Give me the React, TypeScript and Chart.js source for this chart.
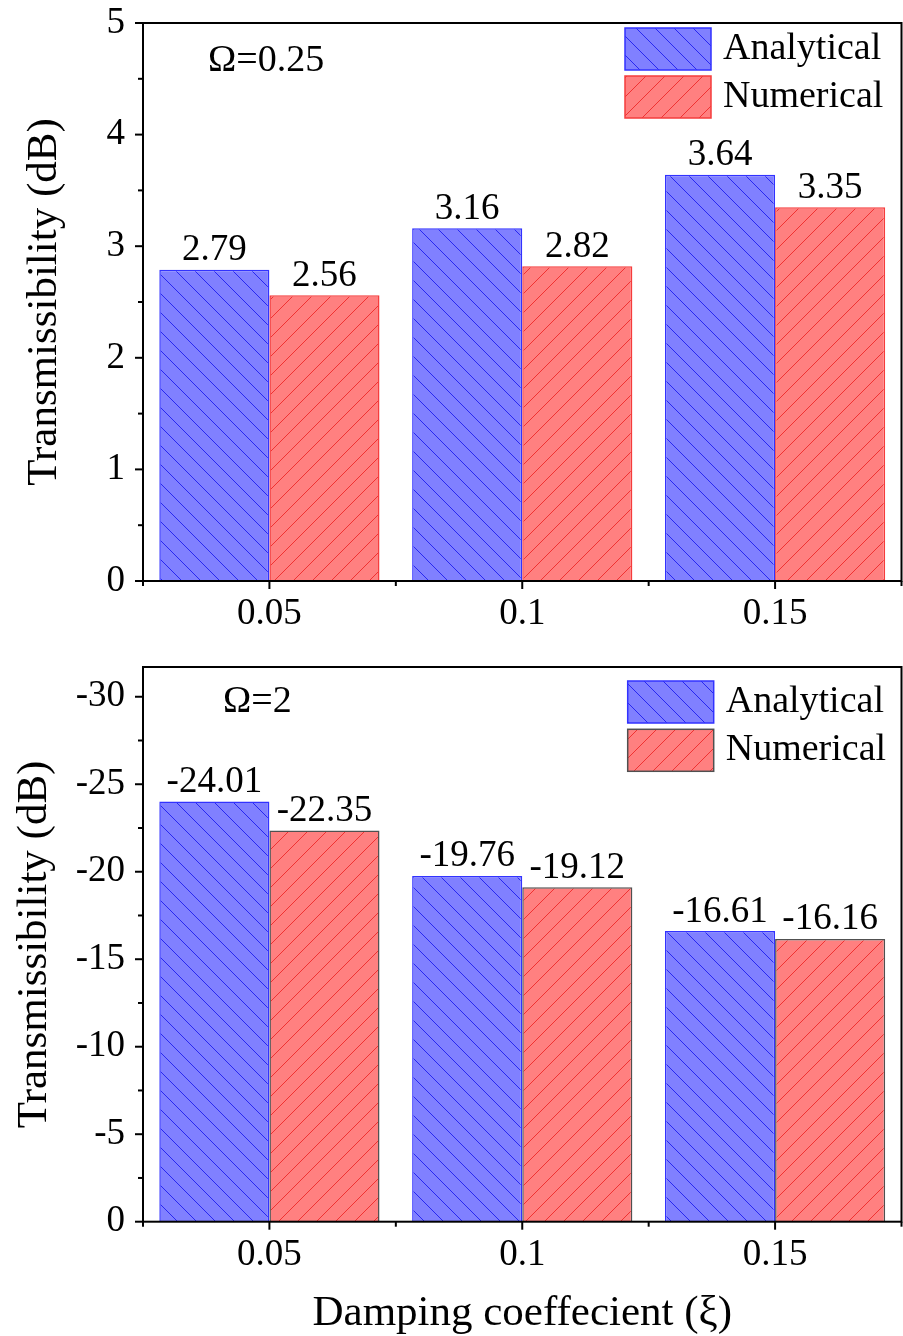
import React, { useEffect, useRef } from 'react';
import { Chart, registerables } from 'chart.js';
Chart.register(...registerables);

const categories = ['0.05', '0.1', '0.15'];
const seriesNames = ['Analytical', 'Numerical'];
const analyticalLow = [2.79, 3.16, 3.64];
const numericalLow = [2.56, 2.82, 3.35];
const analyticalHigh = [-24.01, -19.76, -16.61];
const numericalHigh = [-22.35, -19.12, -16.16];
const yTicksLow = [0, 1, 2, 3, 4, 5];
const yTicksHigh = [0, -5, -10, -15, -20, -25, -30];
const yTitleText = 'Transmissibility (dB)';
const xTitleText = 'Damping coeffecient (ξ)';
const omegaLow = 'Ω=0.25';
const omegaHigh = 'Ω=2';

const FONT = "'Liberation Serif', 'Times New Roman', serif";
const BLUE_FILL = 'rgb(128,128,255)';
const BLUE_LINE = 'rgb(40,40,240)';
const RED_FILL = 'rgb(255,128,128)';
const RED_LINE = 'rgb(240,50,50)';

function makePattern(bg: string, line: string, dir: 'back' | 'fwd', size = 19) {
  const c = document.createElement('canvas');
  c.width = size;
  c.height = size;
  const g = c.getContext('2d')!;
  g.fillStyle = bg;
  g.fillRect(0, 0, size, size);
  g.strokeStyle = line;
  g.lineWidth = 1;
  g.beginPath();
  for (let k = -1; k <= 1; k++) {
    if (dir === 'back') {
      g.moveTo(k * size - 1, -1);
      g.lineTo(k * size + size + 1, size + 1);
    } else {
      g.moveTo(k * size - 1, size + 1);
      g.lineTo(k * size + size + 1, -1);
    }
  }
  g.stroke();
  return g.createPattern(c, 'repeat')!;
}

interface Cfg {
  height: number;
  padTop: number;
  xHeight: number;
  yMin: number;
  yMax: number;
  reverse: boolean;
  majorTicks: number[];
  a: number[];
  n: number[];
  redBorder: string;
  omega: string;
  omegaX: number;
  omegaY: number;
  legendX: number;
  legendY: number;
  legendGap: number;
  yTitlePad: number;
  showXTitle: boolean;
}

function makeFramePlugin(cfg: Cfg) {
  return {
    id: 'frame',
    afterDraw(chart: any) {
      const { ctx, chartArea: a, scales } = chart;
      const x = scales.x;
      const y = scales.y;
      ctx.save();
      ctx.strokeStyle = '#000';
      ctx.lineWidth = 2;
      const seg = (x1: number, y1: number, x2: number, y2: number) => {
        ctx.beginPath();
        ctx.moveTo(x1, y1);
        ctx.lineTo(x2, y2);
        ctx.stroke();
      };
      ctx.strokeRect(a.left, a.top, a.right - a.left, a.bottom - a.top);
      const mt = cfg.majorTicks;
      mt.forEach((v) => {
        const py = y.getPixelForValue(v);
        seg(a.left - 8, py, a.left, py);
      });
      for (let i = 0; i < mt.length - 1; i++) {
        const py = y.getPixelForValue((mt[i] + mt[i + 1]) / 2);
        seg(a.left - 5, py, a.left, py);
      }
      const n = categories.length;
      for (let i = 0; i < n; i++) {
        const px = x.getPixelForValue(i);
        seg(px, a.bottom, px, a.bottom + 8);
      }
      for (let i = 0; i <= n; i++) {
        const px = i === 0 ? a.left : i === n ? a.right : (x.getPixelForValue(i - 1) + x.getPixelForValue(i)) / 2;
        seg(px, a.bottom, px, a.bottom + 5);
      }
      ctx.fillStyle = '#000';
      ctx.font = `37px ${FONT}`;
      ctx.textAlign = 'center';
      ctx.textBaseline = 'alphabetic';
      chart.data.datasets.forEach((ds: any, di: number) => {
        const meta = chart.getDatasetMeta(di);
        meta.data.forEach((bar: any, i: number) => {
          ctx.fillText(Number(ds.data[i]).toFixed(2), bar.x, bar.y - 9.5);
        });
      });
      ctx.font = `38px ${FONT}`;
      ctx.textAlign = 'left';
      ctx.textBaseline = 'middle';
      chart.data.datasets.forEach((ds: any, di: number) => {
        const bx = cfg.legendX;
        const by = cfg.legendY + di * cfg.legendGap;
        ctx.fillStyle = ds.backgroundColor;
        ctx.fillRect(bx, by, 86, 42);
        ctx.strokeStyle = ds.borderColor;
        ctx.lineWidth = 1.5;
        ctx.strokeRect(bx, by, 86, 42);
        ctx.fillStyle = '#000';
        ctx.fillText(ds.label, bx + 98, by + 21);
      });
      ctx.textBaseline = 'alphabetic';
      ctx.fillText(cfg.omega, cfg.omegaX, cfg.omegaY);
      ctx.restore();
    },
  };
}

function BarPanel({ cfg }: { cfg: Cfg }) {
  const ref = useRef<HTMLCanvasElement>(null);
  useEffect(() => {
    const blue = makePattern(BLUE_FILL, BLUE_LINE, 'back');
    const red = makePattern(RED_FILL, RED_LINE, 'fwd');
    const chart = new Chart(ref.current!, {
      type: 'bar',
      data: {
        labels: categories,
        datasets: [
          {
            label: seriesNames[0],
            data: cfg.a,
            backgroundColor: blue as any,
            borderColor: 'rgb(50,50,255)',
            borderWidth: 1.5,
            categoryPercentage: 0.871,
            barPercentage: 1,
          },
          {
            label: seriesNames[1],
            data: cfg.n,
            backgroundColor: red as any,
            borderColor: cfg.redBorder,
            borderWidth: 1.5,
            categoryPercentage: 0.871,
            barPercentage: 1,
          },
        ],
      },
      options: {
        responsive: false,
        animation: false,
        devicePixelRatio: 1,
        layout: { padding: { top: cfg.padTop, right: 1.5, left: 0, bottom: 0 } },
        plugins: { legend: { display: false }, tooltip: { enabled: false } },
        scales: {
          x: {
            grid: { display: false, drawTicks: false },
            border: { display: false },
            ticks: { color: '#000', font: { family: FONT, size: 37 }, padding: 11, maxRotation: 0 },
            title: {
              display: cfg.showXTitle,
              text: xTitleText,
              color: '#000',
              font: { family: FONT, size: 43, lineHeight: 1.05 },
              padding: { top: 0, bottom: 0 },
            },
            afterFit: (s: any) => {
              s.height = cfg.xHeight;
              s.paddingLeft = 0;
              s.paddingRight = 0;
            },
          },
          y: {
            min: cfg.yMin,
            max: cfg.yMax,
            reverse: cfg.reverse,
            grid: { display: false, drawTicks: false },
            border: { display: false },
            afterBuildTicks: (s: any) => {
              s.ticks = cfg.majorTicks.map((v) => ({ value: v }));
            },
            ticks: {
              color: '#000',
              font: { family: FONT, size: 37 },
              padding: 18,
              callback: (v: any) => String(v),
            },
            title: {
              display: true,
              text: yTitleText,
              color: '#000',
              font: { family: FONT, size: 43, lineHeight: 1.1 },
              padding: { top: cfg.yTitlePad, bottom: 0 },
            },
            afterFit: (s: any) => {
              s.width = 143;
              s.paddingTop = 0;
              s.paddingBottom = 0;
            },
          },
        },
      },
      plugins: [makeFramePlugin(cfg)],
    });
    return () => chart.destroy();
  }, [cfg]);
  return <canvas ref={ref} width={903} height={cfg.height} style={{ display: 'block', width: 903, height: cfg.height }} />;
}

const topCfg: Cfg = {
  height: 645,
  padTop: 23,
  xHeight: 64,
  yMin: 0,
  yMax: 5,
  reverse: false,
  majorTicks: yTicksLow,
  a: analyticalLow,
  n: numericalLow,
  redBorder: 'rgb(245,60,60)',
  omega: omegaLow,
  omegaX: 208,
  omegaY: 71,
  legendX: 625,
  legendY: 28,
  legendGap: 48,
  yTitlePad: 21,
  showXTitle: false,
};

const bottomCfg: Cfg = {
  height: 691,
  padTop: 22,
  xHeight: 114.3,
  yMin: -31.7,
  yMax: 0,
  reverse: true,
  majorTicks: yTicksHigh,
  a: analyticalHigh,
  n: numericalHigh,
  redBorder: 'rgb(80,80,80)',
  omega: omegaHigh,
  omegaX: 223,
  omegaY: 66.7,
  legendX: 627.7,
  legendY: 36,
  legendGap: 48.3,
  yTitlePad: 11,
  showXTitle: true,
};

export default function App() {
  return (
    <div style={{ position: 'absolute', left: 0, top: 0, width: 903, height: 1336, background: '#fff' }}>
      <BarPanel cfg={topCfg} />
      <BarPanel cfg={bottomCfg} />
    </div>
  );
}
